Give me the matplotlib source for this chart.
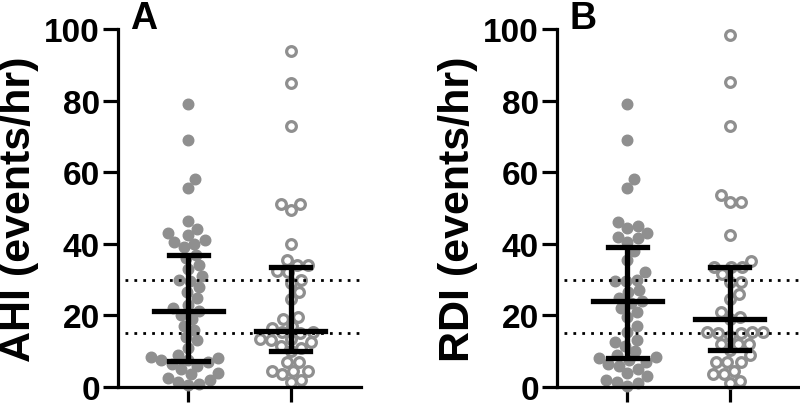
import numpy as np
import matplotlib
matplotlib.use("Agg")
import matplotlib.pyplot as plt

plt.rcParams['font.family'] = ['Liberation Sans', 'DejaVu Sans']

# valores
ahi_grupo1 = [79, 69, 58, 55.5, 46.5, 44, 43, 42.5, 41, 40.5, 40, 39, 37, 36, 34, 33,
              31, 30, 29.5, 28, 26.5, 25, 23, 22, 21.3, 20, 19, 17, 16, 14, 13, 11,
              9, 8.5, 8, 7.5, 7.5, 7, 6.5, 6, 5, 4, 3.5, 2.5, 2, 1.5, 0.8, 0.5]
ahi_grupo2 = [93.8, 85, 73, 51, 51, 49.5, 40, 35.5, 34, 34, 32.5, 32, 30, 29, 26.5,
              24.5, 19.5, 19, 17, 16.5, 15.5, 15.5, 15, 13.5, 13.5, 13, 12.5, 11.5,
              11, 10, 7, 7, 4.5, 4.5, 4.5, 3.5, 2, 1.5]
rdi_grupo1 = [79, 69, 58, 55.5, 46, 45, 44.5, 43, 42, 41.5, 40.5, 38, 35.5, 32, 30,
              29.5, 29.5, 27, 26.5, 25, 24, 23.5, 22, 21, 19.5, 17, 15.5, 13, 12.5,
              11.5, 10, 9, 8.5, 8, 7.5, 7, 6.5, 6, 5, 4, 3, 2, 1.5, 1, 0.3]
rdi_grupo2 = [98.4, 85.3, 73, 53.5, 51.6, 51.6, 42.5, 35.3, 33.5, 33.5, 33.5, 31.5,
              29.2, 29.2, 26, 24.6, 21, 19.5, 19, 15.5, 15.3, 15.3, 15, 15, 14.3, 12,
              12, 12, 10.2, 8.8, 7, 7, 7, 4.6, 3.6, 3.6, 1.8, 1]

# mediana y rango intercuartil (q1, mediana, q3)
ahi_resumen = [(7.2, 21.3, 37.0), (10.1, 15.7, 33.4)]
rdi_resumen = [(8.0, 23.9, 39.0), (10.2, 19.0, 33.4)]

umbrales = [15, 30]
etiquetas_y = ["AHI (events/hr)", "RDI (events/hr)"]
letras = ["A", "B"]

GRIS = "#8f8f8f"
PX_X = 102.0   # pixeles por unidad en x
PX_Y = 3.58    # pixeles por unidad en y
DIAM = 11.0    # diametro del punto en pixeles


def enjambre(valores):
    # desplazamientos horizontales tipo beeswarm, en unidades del eje x
    orden = np.argsort(valores)
    colocados = []
    offsets = np.zeros(len(valores))
    for i in orden:
        y = valores[i] * PX_Y
        candidatos = [0.0]
        for (xp, yp) in colocados:
            dy = abs(y - yp)
            if dy < DIAM:
                dx = np.sqrt(DIAM ** 2 - dy ** 2)
                candidatos += [xp + dx, xp - dx]
        candidatos.sort(key=abs)
        for c in candidatos:
            ok = all((c - xp) ** 2 + (y - yp) ** 2 >= DIAM ** 2 - 1e-6 for xp, yp in colocados)
            if ok:
                break
        colocados.append((c, y))
        offsets[i] = c / PX_X
    return offsets


def dibujar_panel(ax, grupo1, grupo2, resumen, etiqueta, letra):
    for x, datos, relleno in ((0, grupo1, True), (1, grupo2, False)):
        datos = np.array(datos)
        xs = x + enjambre(datos)
        if relleno:
            ax.plot(xs, datos, "o", ms=7.6, color=GRIS, mec=GRIS, clip_on=False, zorder=2)
        else:
            ax.plot(xs, datos, "o", ms=7.0, mfc="white", mec=GRIS, mew=2.3,
                    clip_on=False, zorder=2)
        q1, med, q3 = resumen[x]
        ax.plot([x, x], [q1, q3], color="black", lw=3.8, zorder=4, solid_capstyle="butt")
        ax.plot([x - 0.19, x + 0.19], [q1, q1], color="black", lw=3.8, zorder=4)
        ax.plot([x - 0.19, x + 0.19], [q3, q3], color="black", lw=3.8, zorder=4)
        ax.plot([x - 0.335, x + 0.335], [med, med], color="black", lw=3.8, zorder=4)
    for u in umbrales:
        ax.axhline(u, xmin=0.03, xmax=1, color="black", ls=(0, (1, 2.2)), lw=2.0, zorder=3)
    ax.set_xlim(-0.69, 1.69)
    ax.set_ylim(0, 100)
    ax.set_xticks([0, 1])
    ax.set_xticklabels([])
    ax.set_yticks([0, 20, 40, 60, 80, 100])
    ax.spines["top"].set_visible(False)
    ax.spines["right"].set_visible(False)
    for s in ("left", "bottom"):
        ax.spines[s].set_linewidth(2.3)
    ax.tick_params(axis="both", length=11, width=2.3, direction="out")
    ax.tick_params(axis="y", labelsize=24, pad=2)
    for t in ax.get_yticklabels():
        t.set_fontweight("bold")
    ax.set_ylabel(etiqueta, fontsize=31, fontweight="bold", labelpad=4)
    ax.text(0.05, 1.08, letra, transform=ax.transAxes, fontsize=27,
            fontweight="bold", va="top", ha="left")


fig = plt.figure(figsize=(8, 4.06), dpi=100)
ax1 = fig.add_axes([118 / 800, 18 / 406, 243 / 800, 358 / 406])
ax2 = fig.add_axes([557 / 800, 18 / 406, 243 / 800, 358 / 406])
dibujar_panel(ax1, ahi_grupo1, ahi_grupo2, ahi_resumen, etiquetas_y[0], letras[0])
dibujar_panel(ax2, rdi_grupo1, rdi_grupo2, rdi_resumen, etiquetas_y[1], letras[1])
fig.savefig("out.png", dpi=100)
